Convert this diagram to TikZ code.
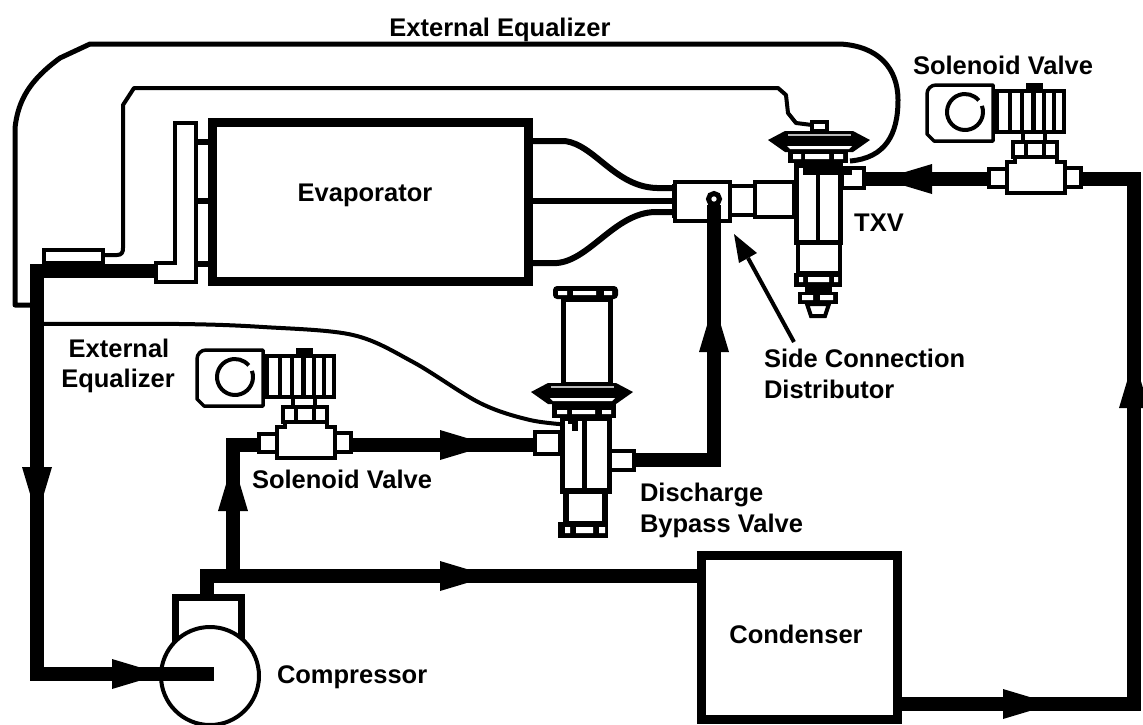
\documentclass[tikz,border=0pt]{standalone}
\usepackage{fontspec}
\setmainfont{Liberation Sans}
\usetikzlibrary{calc}
\tikzset{
  pipe/.style={line width=13.5pt,line cap=butt,line join=miter},
  part/.style={draw=black,fill=white,line width=4pt,line join=miter},
  thinpart/.style={draw=black,fill=white,line width=3.5pt,line join=round},
  bigbox/.style={draw=black,fill=white,line width=9pt,rectangle,minimum width=#1,inner sep=0pt,outer sep=0pt},
  tube/.style={line width=6pt,line join=round},
  capillary/.style={line width=4pt,line join=round},
  equalizer/.style={line width=5pt,line join=round},
  lbl/.style={font=\bfseries\fontsize{25.5}{25.5}\selectfont,inner sep=0pt,outer sep=0pt,anchor=base},
  lblw/.style={lbl,anchor=base west},
}
% flow arrowheads: base point, pointing R/L/U/D
\newcommand{\flowR}[2]{\fill (#1,#2-15) -- (#1+50,#2) -- (#1,#2+15) -- cycle;}
\newcommand{\flowL}[2]{\fill (#1,#2-15) -- (#1-50,#2) -- (#1,#2+15) -- cycle;}
\newcommand{\flowU}[2]{\fill (#1-15,#2) -- (#1,#2-50) -- (#1+15,#2) -- cycle;}
\newcommand{\flowD}[2]{\fill (#1-15,#2) -- (#1,#2+50) -- (#1+15,#2) -- cycle;}
% solenoid valve, drawn at the position of the upper one
\newcommand{\solenoid}{%
  \draw[part] (989,169) rectangle (1007,187);
  \draw[part] (1065,168) rectangle (1081,187);
  \draw[part] (1015,157) -- (1057,157) -- (1057,162) -- (1065,162) -- (1065,193) -- (1007,193) -- (1007,162) -- (1015,162) -- cycle;
  \draw[part] (1013,142) rectangle (1057,157);
  \draw[line width=3.5pt] (1026,142) -- (1026,157) (1044,142) -- (1044,157);
  \draw[part] (1023,132) rectangle (1045,142);
  \fill (1026,83) rectangle (1043,91);
  \draw[part] (997,91) rectangle (1064,132);
  \draw[line width=3.5pt] (1010,91) -- (1010,132) (1022,91) -- (1022,132) (1044,91) -- (1044,132) (1054,91) -- (1054,132);
  \draw[line width=5pt] (1033,91) -- (1033,132);
  \draw[part] (993,94) rectangle (997,129);
  \draw[thinpart] (936,85) -- (993,85) -- (993,141) -- (934,141) -- (927,134) -- (927,94) .. controls (927,89) and (931,85) .. (936,85) -- cycle;
  \draw[line width=4pt] (965,112) ++(-20:18) arc[start angle=-20,end angle=320,radius=18];
  \draw[line width=3pt] (982,106) -- (982,114);
}
% diaphragm head: x = left tip
\newcommand{\diaphragm}[2]{%
  \begin{scope}[shift={(#1,#2)}]
  \fill (0,9) -- (17,0) -- (85,0) -- (102,9) -- (85,21) -- (17,21) -- cycle;
  \fill[gray!55] (20,2.5) rectangle (83,5);
  \fill[white] (19,15) -- (84,15) -- (81,18) -- (22,18) -- cycle;
  \end{scope}
}
\begin{document}
\begin{tikzpicture}[x=1pt,y=-1pt]
\useasboundingbox (0,0) rectangle (1143,724);
\clip (0,0) rectangle (1143,724);
\fill[white] (0,0) rectangle (1143,724);

% ---- named points on the refrigerant circuit
\coordinate (suctionEnd) at (214,674);
\coordinate (suctionCorner) at (37,674);
\coordinate (suctionTop) at (37,271);
\coordinate (headerFoot) at (156,271);
\coordinate (compOut) at (207,596);
\coordinate (compTee) at (207,576);
\coordinate (condIn) at (698,576);
\coordinate (branchTee) at (233,576);
\coordinate (branchCorner) at (233,445);
\coordinate (lowValveIn) at (262,445);
\coordinate (lowValveOut) at (350,445);
\coordinate (bypassIn) at (535,445);
\coordinate (bypassOut) at (633,460);
\coordinate (bypassCorner) at (714,460);
\coordinate (distIn) at (714,200);
\coordinate (condOut) at (900,704);
\coordinate (rightCorner) at (1134,704);
\coordinate (rightTop) at (1134,179);
\coordinate (topValveOut) at (1079,179);
\coordinate (topValveIn) at (991,179);
\coordinate (txvIn) at (863,179);

% ---- equalizer lines
\draw[equalizer] (32,305) -- (15,305) -- (15,128)
   .. controls (18,100) and (30,80) .. (60,58) -- (90,44) -- (840,44)
   .. controls (878,46) and (898,68) .. (898,100)
   .. controls (898,135) and (885,158) .. (850,161);
\draw[capillary] (100,255) -- (117,255) .. controls (122,255) and (123,252) .. (123,248)
   -- (123,105) -- (134,88) -- (778,88) -- (786,95) -- (788,113) -- (796,123) -- (812,125);
\draw[capillary] plot[smooth,tension=.55] coordinates {(40,324) (180,324) (263,327) (353,335) (413,362) (480,403) (530,420) (572,425)};

% ---- main pipework
\draw[pipe] (headerFoot) -- (suctionTop) -- (suctionCorner) -- (suctionEnd);
\draw[pipe] (compOut) -- (compTee) -- (condIn);
\draw[pipe] (branchTee) -- (branchCorner) -- (lowValveIn);
\draw[pipe] (lowValveOut) -- (bypassIn);
\draw[pipe] (bypassOut) -- (bypassCorner) -- (distIn);
\draw[pipe] (condOut) -- (rightCorner) -- (rightTop) -- (topValveOut);
\draw[pipe] (topValveIn) -- (txvIn);

% ---- flow arrowheads
\flowD{37}{467}
\flowR{112}{674}
\flowU{233}{511}
\flowR{440}{576}
\flowR{440}{445}
\flowU{714}{352}
\flowR{1003}{704}
\flowU{1134}{408}
\flowL{932}{179}

% ---- compressor
\node[draw=black,fill=white,line width=7pt,rectangle,minimum width=66pt,minimum height=60pt,inner sep=0pt] (compHead) at (208.5,627) {};
\node[draw=black,line width=4pt,fill=white,circle,minimum size=98pt,inner sep=0pt] (compressor) at (210,676) {};
\draw[pipe] (140,674) -- (suctionEnd);

% ---- evaporator
\node[bigbox=316pt,minimum height=159pt] (evaporator) at (370.5,201.5) {};
\draw[part] (175,123) -- (196,123) -- (196,282) -- (156,282) -- (156,263) -- (175,263) -- cycle;
\draw[line width=6pt] (196,142) -- (evaporator.west |- 0,142)
  (196,201) -- (evaporator.west |- 0,201) (196,264) -- (evaporator.west |- 0,264);
\draw[part] (44,250) rectangle (103,263);
\draw[tube] (533,141) -- (565,141) .. controls (595,145) and (615,187) .. (657,188) -- (675,188);
\draw[tube] (533,201) -- (675,201);
\draw[tube] (533,263) -- (557,263) .. controls (590,260) and (615,213) .. (655,212) -- (675,212);

% ---- side connection distributor
\draw[part] (730,186) rectangle (755,215);
\draw[part] (755,182) rectangle (794,217);
\node[draw=black,fill=white,line width=4pt,rectangle,minimum width=55pt,minimum height=39pt,inner sep=0pt] (distributor) at (702.5,201) {};
\fill (672,184) rectangle (677,218);
\draw[line width=5pt,fill=white] (714,199) circle[radius=5.5];
\draw[pipe] (714,300) -- (714,205);

% ---- TXV
\draw[part] (842,168) rectangle (864,188);
\draw[part] (798,242) rectangle (840,273);
\draw[line width=5pt,fill=white] (796,165) rectangle (840,242);
\draw[line width=3.5pt] (818,170) -- (818,242);
\fill (803,167) rectangle (852,175);
\fill (794,273) rectangle (842,287);
\fill[white] (799,277) rectangle (803,282) (808,277) rectangle (829,282) (834,277) rectangle (838,282);
\fill (805,287) rectangle (832,292);
\fill (798,292) rectangle (838,304);
\fill[white] (802,295) rectangle (813,300) (820,295) rectangle (833,300);
\draw[part] (807,304) -- (829,304) -- (825,316) -- (811,316) -- cycle;
\draw[part] (812,122) rectangle (827,131);
\diaphragm{768}{131}
\fill (788,152) rectangle (848,163);
\fill[white] (793,154) rectangle (801,159) (805,154) rectangle (829,159) (834,154) rectangle (843,159);

% ---- discharge bypass valve
\draw[part] (535,432) rectangle (560,454);
\draw[part] (610,451) rectangle (634,470);
\draw[line width=5pt,fill=white] (563,299) rectangle (610,384);
\fill[rounded corners=4pt] (553,286) rectangle (618,299);
\fill[white] (558,291) rectangle (567,295) (573,291) rectangle (596,295) (604,291) rectangle (612,295);
\diaphragm{531}{383}
\fill (552,404) rectangle (616,418);
\fill[white] (557,410) rectangle (567,414) (572,410) rectangle (595,414) (602,410) rectangle (611,414);
\draw[line width=5pt,fill=white] (562,418) rectangle (609,491);
\fill (582,418) rectangle (587,491);
\fill (568,417) rectangle (576,424);
\fill (572,420) rectangle (578,431);
\draw[line width=6pt,fill=white] (566,491) rectangle (605,524);
\fill (558,522) rectangle (608,538);
\fill[white] (565,527) rectangle (570,533) (576,527) rectangle (593,533) (599,527) rectangle (605,533);

% ---- solenoid valves
\solenoid
\begin{scope}[shift={(-730,265)}]
\solenoid
\end{scope}

% ---- condenser
\node[bigbox=196pt,minimum height=164pt] (condenser) at (799,637) {};

% ---- side connection pointer
\coordinate (sideTail) at (794,342);
\coordinate (sideTip) at (734,234);
\fill (sideTip) -- (757,253) -- (739,263) -- cycle;
\draw[line width=4pt] (sideTail) -- (748,258);

% ---- labels
\node[lbl] (tExtTop) at (500,36) {External Equalizer};
\node[lbl] (tSolTop) at (1003,74) {Solenoid Valve};
\node[lbl] (tEvap) at (365,201) {Evaporator};
\node[lbl] (tTXV) at (879,231) {TXV};
\node[lblw] (tSide1) at (764,367) {Side Connection};
\node[lblw] (tSide2) at (764,398) {Distributor};
\node[lbl] (tExt1) at (119,357) {External};
\node[lbl] (tExt2) at (118,387) {Equalizer};
\node[lbl] (tSolLow) at (342,488) {Solenoid Valve};
\node[lblw] (tDis1) at (640,501) {Discharge};
\node[lblw] (tDis2) at (640,532) {Bypass Valve};
\node[lbl] (tCond) at (796,643) {Condenser};
\node[lblw] (tComp) at (277,683) {Compressor};
\end{tikzpicture}
\end{document}
